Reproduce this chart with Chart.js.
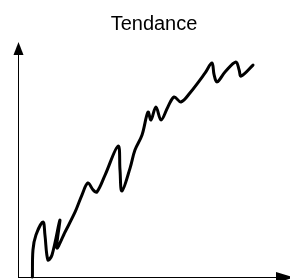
<!DOCTYPE html>
<html><head><meta charset="utf-8">
<script src="https://cdn.jsdelivr.net/npm/chart.js@4"></script>
<style>html,body{margin:0;padding:0;background:#fff}#w{width:290px;height:280px}</style>
</head><body><div id="w"><canvas id="c"></canvas></div>
<script>
const title = 'Tendance';
const xs = [5.3,5.5,6.6,9.2,9.9,11.0,12.5,15.4,14.3,17.3,21.0,23.5,25.7,27.6,29.0,32.0,36.8,37.5,38.2,41.2,43.0,45.6,47.8,48.9,50.7,52.6,55.1,57.4,59.9,63.2,68.8,71.3,72.1,73.2,76.1,80.1,81.3,82.0,86.4];
const ys = [0,12,18.7,24.4,18.7,7.6,9.8,25.3,12.9,20,28.9,36.4,41.8,38.7,37.8,45.3,58.2,47.6,38.2,48.4,56.4,63.1,73.3,69.8,75.6,69.8,75.6,80,77.8,81.8,90.7,95.1,89.8,86.7,91.1,95.6,92,89.3,94.2];
const points = xs.map((x,i)=>({x, y: ys[i]}));

const arrows = {
  id:'arrows',
  afterDraw(chart){
    const {ctx, chartArea:a} = chart;
    const x0 = a.left, y0 = a.bottom;
    const tipY = a.top - 10;
    ctx.save();
    ctx.strokeStyle = '#000'; ctx.fillStyle = '#000'; ctx.lineWidth = 1;
    ctx.beginPath();
    ctx.moveTo(x0+0.5, y0); ctx.lineTo(x0+0.5, tipY+8);
    ctx.moveTo(x0, y0+0.5); ctx.lineTo(a.right-12, y0+0.5);
    ctx.stroke();
    ctx.beginPath();
    ctx.moveTo(x0+0.5, tipY); ctx.lineTo(x0-4.5, tipY+13); ctx.lineTo(x0+5.5, tipY+13); ctx.closePath(); ctx.fill();
    ctx.beginPath();
    ctx.moveTo(a.right+4, y0+0.5); ctx.lineTo(a.right-14, y0-5); ctx.lineTo(a.right-14, y0+6); ctx.closePath(); ctx.fill();
    ctx.restore();
  }
};

new Chart(document.getElementById('c'), {
  type:'scatter',
  data:{datasets:[{data:points, showLine:true, borderColor:'#000', borderWidth:3, pointRadius:0, tension:0.35, clip:false, borderCapStyle:'round', borderJoinStyle:'round'}]},
  options:{
    responsive:true, maintainAspectRatio:false, animation:false,
    layout:{padding:{left:18,right:0,top:0,bottom:3}},
    plugins:{legend:{display:false}, tooltip:{enabled:false},
      title:{display:true, text:title, color:'#000', font:{family:'Liberation Sans, Arial', size:20, weight:'normal'}, padding:{top:12,bottom:16}}},
    scales:{x:{display:false,min:0,max:100},y:{display:false,min:0,max:100}}
  },
  plugins:[arrows]
});
</script></body></html>
